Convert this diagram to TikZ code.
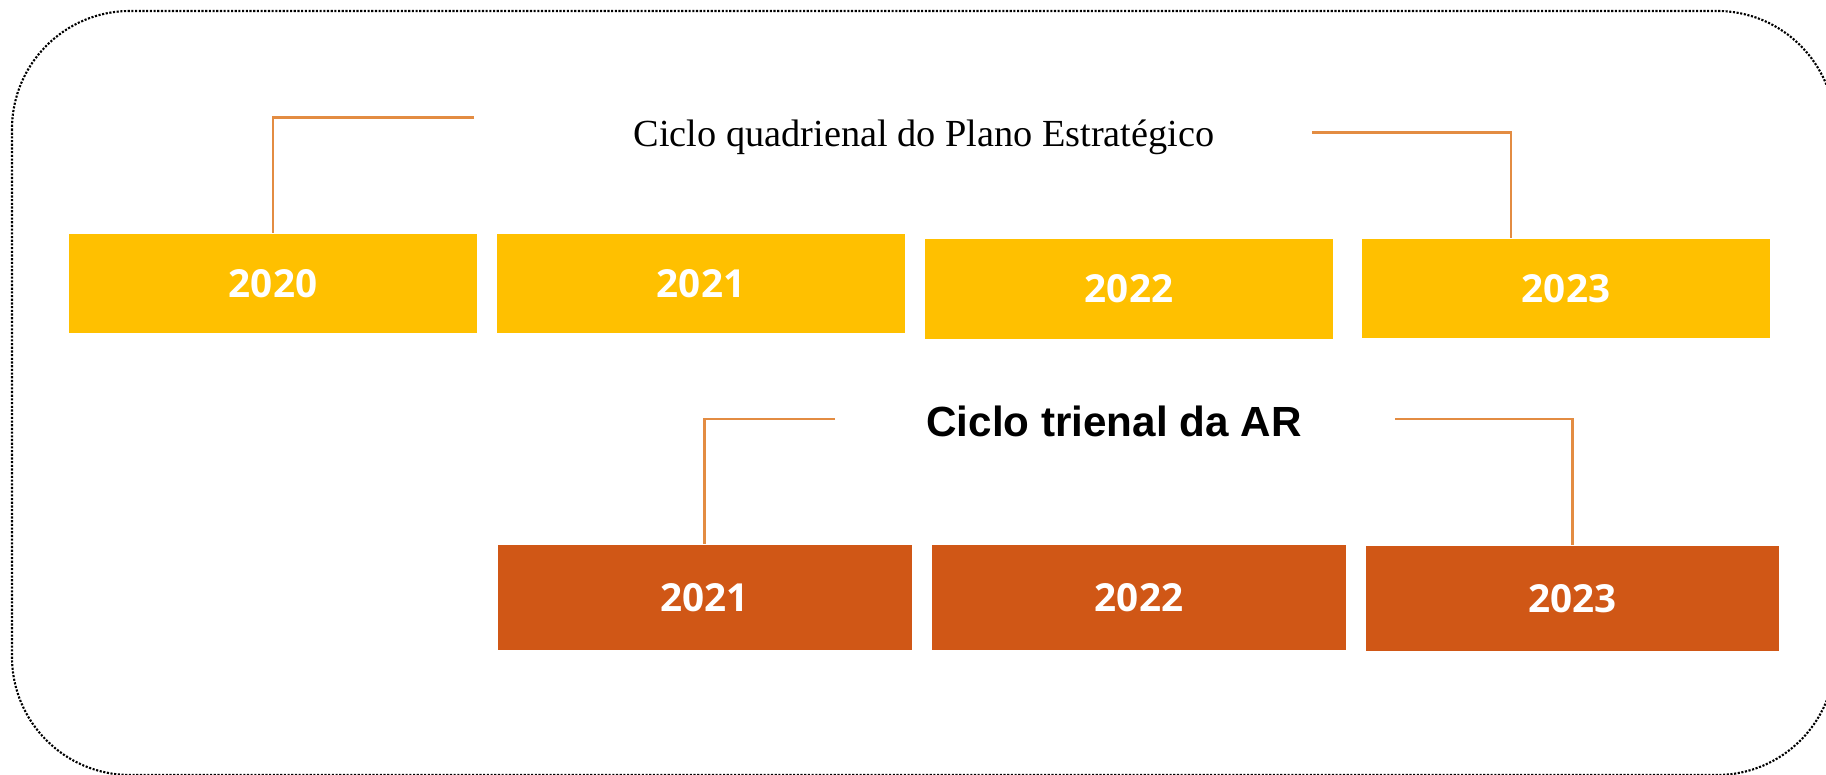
\documentclass[tikz,border=0pt]{standalone}
\usepackage{fontspec}
\setmainfont{Liberation Serif}
\newfontfamily\yearfont{Open Sans}
\newfontfamily\arfont{Liberation Sans}
\usepackage{tikz}
\definecolor{gold}{HTML}{FFC000}
\definecolor{rust}{HTML}{D05716}
\definecolor{link}{HTML}{E38C42}
\tikzset{
  frame/.style={draw=black, line width=0.6pt, dash pattern=on 0.6pt off 0.45pt, rounded corners=1.18cm},
  conn/.style={draw=link, line width=0.8pt},
  yearbox/.style={inner sep=0pt, minimum width=4.08cm, minimum height=0.99cm, text=white,
    font=\yearfont\bfseries\fontsize{11}{13}\selectfont},
  plan/.style={yearbox, fill=gold},
  reg/.style={yearbox, fill=rust, minimum width=4.14cm, minimum height=1.05cm},
  cyc/.style={inner sep=0pt},
}

\begin{document}
\begin{tikzpicture}
  \useasboundingbox (0,0) rectangle (18.26,-7.75);
  \draw[frame] (0.12,-0.11) rectangle (18.35,-7.75);

  % plano estrategico
  \node[plan] (p20) at (2.73,-2.835) {2020};
  \node[plan] (p21) at (7.01,-2.835) {2021};
  \node[plan, minimum height=1.0cm] (p22) at (11.29,-2.888) {2022};
  \node[plan] (p23) at (15.66,-2.882) {2023};

  % ciclo da AR
  \node[reg] (r21) at (7.045,-5.975) {2021};
  \node[reg] (r22) at (11.39,-5.975) {2022};
  \node[reg, minimum width=4.13cm] (r23) at (15.725,-5.985) {2023};

  \node[cyc, font=\fontsize{10.9}{13}\selectfont] (quad) at (9.24,-1.37) {Ciclo quadrienal do Plano Estratégico};
  \node[cyc, font=\arfont\bfseries\fontsize{12}{14}\selectfont] (tri) at (11.14,-4.215) {Ciclo trienal da AR};

  \coordinate (qL) at (4.74,-1.176);
  \coordinate (qR) at (13.12,-1.328);
  \coordinate (qRe) at (15.11,-1.328);
  \coordinate (tL) at (8.35,-4.19);
  \coordinate (tR) at (13.95,-4.19);

  \draw[conn] (qL) -| (p20.north);
  \draw[conn] (qR) -- (qRe) -- (qRe |- p23.north);
  \draw[conn] (tL) -| (r21.north);
  \draw[conn] (tR) -| (r23.north);
\end{tikzpicture}
\end{document}
